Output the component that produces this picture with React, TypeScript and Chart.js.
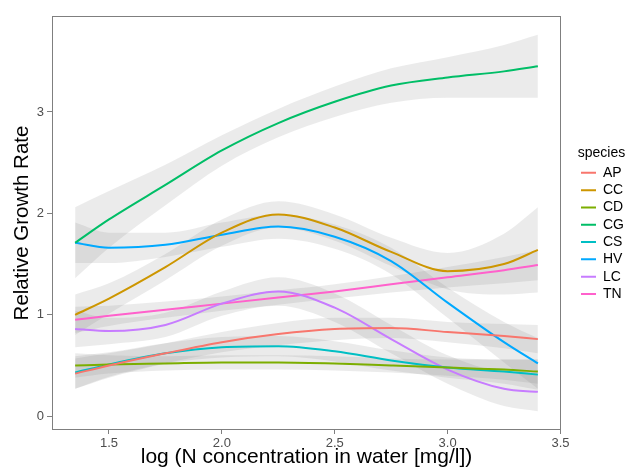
import React, { useEffect, useRef } from "react";
import { Chart, registerables } from "chart.js";

Chart.register(...registerables);

// ---- Data ----
const xValues = [1.35, 1.5, 1.75, 2.0, 2.25, 2.5, 2.75, 3.0, 3.25, 3.4];

const species = ["AP", "CC", "CD", "CG", "CS", "HV", "LC", "TN"];
const speciesColors = ["#F8766D", "#CD9600", "#7CAE00", "#00BE67", "#00BFC4", "#00A9FF", "#C77CFF", "#FF61CC"];

const apFit = [0.42, 0.5, 0.62, 0.73, 0.81, 0.86, 0.87, 0.83, 0.79, 0.76];
const apSe = [0.15, 0.12, 0.1, 0.1, 0.11, 0.11, 0.1, 0.1, 0.12, 0.14];

const ccFit = [1.0, 1.16, 1.47, 1.81, 1.99, 1.86, 1.62, 1.43, 1.5, 1.64];
const ccSe = [0.2, 0.15, 0.13, 0.13, 0.13, 0.13, 0.14, 0.18, 0.3, 0.42];

const cdFit = [0.5, 0.51, 0.52, 0.53, 0.53, 0.52, 0.5, 0.48, 0.46, 0.44];
const cdSe = [0.12, 0.09, 0.07, 0.07, 0.07, 0.07, 0.07, 0.08, 0.1, 0.12];

const cgFit = [1.71, 1.94, 2.28, 2.62, 2.89, 3.1, 3.26, 3.34, 3.4, 3.45];
const cgSe = [0.35, 0.28, 0.2, 0.15, 0.14, 0.15, 0.17, 0.2, 0.26, 0.31];

const csFit = [0.43, 0.51, 0.62, 0.68, 0.69, 0.64, 0.55, 0.48, 0.44, 0.41];
const csSe = [0.16, 0.12, 0.1, 0.1, 0.1, 0.1, 0.1, 0.1, 0.12, 0.15];

const hvFit = [1.71, 1.66, 1.69, 1.79, 1.87, 1.77, 1.53, 1.12, 0.73, 0.52];
const hvSe = [0.2, 0.15, 0.12, 0.12, 0.12, 0.12, 0.13, 0.15, 0.2, 0.25];

const lcFit = [0.86, 0.84, 0.9, 1.11, 1.23, 1.07, 0.76, 0.46, 0.27, 0.24];
const lcSe = [0.18, 0.13, 0.12, 0.12, 0.14, 0.14, 0.14, 0.14, 0.17, 0.19];

const tnFit = [0.95, 0.99, 1.05, 1.11, 1.17, 1.23, 1.3, 1.37, 1.44, 1.49];
const tnSe = [0.13, 0.1, 0.08, 0.07, 0.07, 0.07, 0.08, 0.1, 0.13, 0.15];

const fits = [apFit, ccFit, cdFit, cgFit, csFit, hvFit, lcFit, tnFit];
const ses = [apSe, ccSe, cdSe, cgSe, csSe, hvSe, lcSe, tnSe];

const xTicks = [1.5, 2.0, 2.5, 3.0, 3.5];
const yTicks = [0, 1, 2, 3];

const xTitle = "log (N concentration in water [mg/l])";
const yTitle = "Relative Growth Rate";
const legendTitle = "species";

// ---- Styles ----
const FONT = "'Liberation Sans', Arial, Helvetica, sans-serif";
const ribbonFill = "rgba(128,128,128,0.16)";
const axisGray = "#7f7f7f";
const tickTextGray = "#4d4d4d";

const panelBorder = {
  id: "panelBorder",
  afterDatasetsDraw(chart: any) {
    const { ctx, chartArea } = chart;
    const l = Math.round(chartArea.left) + 0.5;
    const t = Math.round(chartArea.top) + 0.5;
    const r = Math.round(chartArea.right) - 0.5;
    const b = Math.round(chartArea.bottom) - 0.5;
    ctx.save();
    ctx.strokeStyle = axisGray;
    ctx.lineWidth = 1;
    ctx.strokeRect(l, t, r - l, b - t);
    ctx.restore();
  },
};

export default function App() {
  const canvasRef = useRef<HTMLCanvasElement | null>(null);

  useEffect(() => {
    if (!canvasRef.current) return;
    Chart.defaults.font.family = FONT;

    const lineSets = species.map((name, i) => ({
      label: name,
      data: xValues.map((x, k) => ({ x, y: fits[i][k] })),
      borderColor: speciesColors[i],
      backgroundColor: speciesColors[i],
      borderWidth: 2,
      pointRadius: 0,
      fill: false,
      cubicInterpolationMode: "monotone" as const,
    }));

    const ribbonSets: any[] = [];
    species.forEach((name, i) => {
      ribbonSets.push({
        label: name + " upper",
        data: xValues.map((x, k) => ({ x, y: fits[i][k] + ses[i][k] })),
        borderColor: "rgba(0,0,0,0)",
        backgroundColor: ribbonFill,
        borderWidth: 0,
        pointRadius: 0,
        fill: "+1",
        cubicInterpolationMode: "monotone",
      });
      ribbonSets.push({
        label: name + " lower",
        data: xValues.map((x, k) => ({ x, y: fits[i][k] - ses[i][k] })),
        borderColor: "rgba(0,0,0,0)",
        backgroundColor: ribbonFill,
        borderWidth: 0,
        pointRadius: 0,
        fill: false,
        cubicInterpolationMode: "monotone",
      });
    });

    const chart = new Chart(canvasRef.current, {
      type: "line",
      data: { datasets: [...lineSets, ...ribbonSets] },
      plugins: [panelBorder],
      options: {
        animation: false,
        responsive: false,
        events: [],
        layout: { padding: { left: 8, top: 16, right: 4, bottom: 0 } },
        plugins: {
          filler: { drawTime: "beforeDatasetsDraw" },
          tooltip: { enabled: false },
          legend: {
            display: true,
            position: "right",
            align: "center",
            fullSize: false,
            title: {
              display: true,
              text: legendTitle,
              position: "start",
              color: "#000",
              font: { size: 14, family: FONT },
              padding: { top: 4, bottom: 0, left: 0, right: 0 },
            },
            labels: {
              boxWidth: 15,
              boxHeight: 2,
              padding: 3.3,
              color: "#000",
              font: { size: 14, family: FONT },
              generateLabels: () =>
                species.map((name, i) => ({
                  text: name,
                  fillStyle: speciesColors[i],
                  strokeStyle: speciesColors[i],
                  lineWidth: 0,
                  hidden: false,
                  datasetIndex: i,
                  fontColor: "#000",
                })),
            },
          },
        },
        scales: {
          x: {
            type: "linear",
            position: "bottom",
            min: 1.2475,
            max: 3.5025,
            afterBuildTicks: (s: any) => {
              s.ticks = xTicks.map((v) => ({ value: v }));
            },
            afterFit: (s: any) => {
              s.height = 41;
            },
            ticks: {
              callback: (v: any) => Number(v).toFixed(1),
              color: tickTextGray,
              font: { size: 13, family: FONT },
              padding: 2,
              autoSkip: false,
              maxRotation: 0,
            },
            grid: { display: true, drawOnChartArea: false, drawTicks: true, tickLength: 4, color: axisGray },
            border: { display: false },
            title: {
              display: true,
              text: xTitle,
              color: "#000",
              font: { size: 21, family: FONT },
              padding: { top: 0, bottom: 1 },
            },
          },
          y: {
            type: "linear",
            position: "left",
            min: -0.136,
            max: 3.946,
            afterBuildTicks: (s: any) => {
              s.ticks = yTicks.map((v) => ({ value: v }));
            },
            afterFit: (s: any) => {
              s.width = 44;
            },
            ticks: {
              callback: (v: any) => String(v),
              color: tickTextGray,
              font: { size: 13, family: FONT },
              padding: 3,
            },
            grid: { display: true, drawOnChartArea: false, drawTicks: true, tickLength: 5, color: axisGray },
            border: { display: false },
            title: {
              display: true,
              text: yTitle,
              color: "#000",
              font: { size: 20.5, family: FONT },
              padding: { top: 2, bottom: 0 },
            },
          },
          gap: {
            type: "linear",
            position: "right",
            display: true,
            grid: { display: false, drawTicks: false },
            ticks: { display: false },
            border: { display: false },
            afterFit: (s: any) => {
              s.width = 16.7;
            },
          },
        },
      } as any,
    });

    return () => chart.destroy();
  }, []);

  return (
    <div style={{ position: "absolute", left: 0, top: 0, width: 638, height: 471, background: "#fff" }}>
      <canvas ref={canvasRef} width={638} height={471} />
    </div>
  );
}
